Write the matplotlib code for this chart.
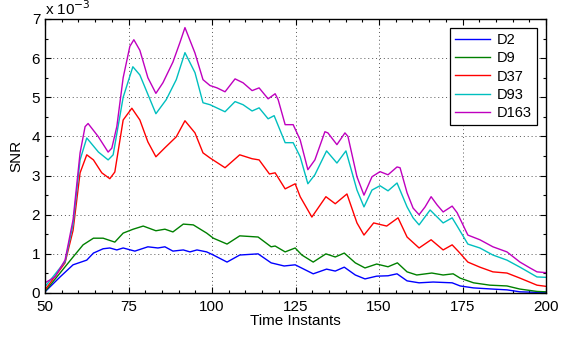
import numpy as np
import matplotlib
matplotlib.use("Agg")
import matplotlib.pyplot as plt
from matplotlib.ticker import MultipleLocator

plt.rcParams['font.family'] = ['Liberation Sans', 'DejaVu Sans']

# SNR values in units of 1e-3
x_d163 = [50, 53, 56, 58.4, 60.5, 62, 62.9, 65.9, 68.9, 70, 71.5, 73.4, 75.4, 76.6, 78.4,
          80.8, 83.2, 85.3, 88.3, 90.4, 91.9, 94.9, 97.3, 99.4, 101.5, 103.9, 106.9,
          109.3, 112, 114.1, 116.8, 118.9, 119.8, 121.9, 124.3, 126.4, 128.7, 130.8,
          133.8, 134.7, 137.4, 139.8, 140.7, 143.4, 145.5, 147.9, 150.3, 152.7, 155.4,
          156.3, 158.4, 160.2, 162, 163.8, 165.6, 167.4, 169.2, 171.9, 173.4, 176.6,
          180.2, 184.1, 188.3, 192.2, 195.2, 197.3, 200]
y_d163 = [0.26, 0.41, 0.84, 1.87, 3.58, 4.25, 4.33, 4.0, 3.6, 3.7, 4.25, 5.5, 6.3, 6.47, 6.2,
          5.5, 5.1, 5.37, 5.9, 6.4, 6.78, 6.13, 5.45, 5.3, 5.24, 5.14, 5.47,
          5.37, 5.17, 5.24, 4.96, 5.09, 4.94, 4.3, 4.3, 3.91, 3.15, 3.4,
          4.12, 4.09, 3.79, 4.09, 4.0, 2.97, 2.5, 2.97, 3.1, 3.02, 3.22,
          3.2, 2.56, 2.17, 2.0, 2.2, 2.46, 2.25, 2.07, 2.22, 2.05, 1.48,
          1.36, 1.18, 1.05, 0.79, 0.64, 0.54, 0.52]

x_d93 = [50, 56, 58.4, 60.5, 62.5, 66, 68.9, 70.4, 73.4, 76.3, 78.4, 83.2, 86.3, 89.3,
         91.9, 94.9, 97.3, 99.4, 103.9, 106.9, 109.3, 112, 114.1, 116.8, 118.6, 121.9,
         124.3, 126.4, 128.7, 130.8, 134.3, 137.4, 140.1, 143.4, 145.5, 147.9, 150.3,
         152.7, 155.4, 158.4, 160.2, 162, 165.3, 169.2, 171.9, 173.4, 176.6, 180.2,
         184.1, 188.3, 192.2, 197.3, 200]
y_d93 = [0.16, 0.8, 1.75, 3.4, 3.96, 3.6, 3.4, 3.53, 5.0, 5.78, 5.57, 4.58, 4.94, 5.45,
         6.14, 5.63, 4.86, 4.81, 4.63, 4.89, 4.81, 4.65, 4.73, 4.45, 4.53, 3.84,
         3.84, 3.48, 2.79, 3.02, 3.63, 3.32, 3.63, 2.63, 2.2, 2.63, 2.74,
         2.61, 2.81, 2.2, 1.92, 1.74, 2.12, 1.79, 1.92, 1.71, 1.25, 1.15,
         0.97, 0.84, 0.66, 0.41, 0.4]

x_d37 = [50, 56, 58.4, 60.5, 62.5, 64.5, 67, 69.4, 70.9, 73.4, 76, 78.4, 80.8, 83.2, 85.9,
         89.3, 91.9, 94.9, 97.3, 99.4, 103.9, 108.3, 112, 114.1, 117.2, 118.9, 121.9,
         124.9, 126.4, 129.9, 134.1, 136.9, 140.4, 143.4, 145.5, 148.4, 152.3, 155.7,
         158.4, 162, 165.6, 169.2, 171.9, 173.9, 176.6, 180.2, 184.1, 188.3, 192.2,
         197.3, 200]
y_d37 = [0.08, 0.77, 1.6, 3.07, 3.53, 3.4, 3.07, 2.92, 3.09, 4.42, 4.72, 4.42, 3.86, 3.48, 3.71,
         3.99, 4.4, 4.09, 3.58, 3.45, 3.2, 3.53, 3.43, 3.4, 3.04, 3.07, 2.66,
         2.79, 2.46, 1.94, 2.46, 2.28, 2.53, 1.79, 1.48, 1.79, 1.71, 1.92,
         1.43, 1.15, 1.36, 1.1, 1.23, 1.05, 0.79, 0.66, 0.54, 0.51, 0.38,
         0.2, 0.17]

x_d9 = [50, 54.5, 58.4, 61.4, 64.5, 67.4, 70.9, 73.4, 76.4, 79.4, 83.2, 85.9, 88.3, 91.4,
        94.4, 98.4, 100.4, 104.5, 108.3, 113.8, 117.7, 118.9, 121.9, 124.9, 126.9, 130.3,
        134.1, 136.9, 139.6, 142.9, 145.8, 149.3, 152.7, 155.5, 158.4, 161.3, 165.8,
        169.2, 172.2, 174.3, 178.3, 183.2, 188.3, 192.2, 197.3, 200]
y_d9 = [0.04, 0.51, 0.92, 1.23, 1.4, 1.4, 1.3, 1.53, 1.63, 1.71, 1.59, 1.63, 1.56, 1.76,
        1.74, 1.53, 1.4, 1.25, 1.46, 1.43, 1.18, 1.2, 1.05, 1.15, 0.97, 0.79,
        1.0, 0.92, 1.02, 0.77, 0.64, 0.74, 0.67, 0.77, 0.54, 0.46, 0.51,
        0.46, 0.49, 0.38, 0.26, 0.2, 0.18, 0.1, 0.04, 0.03]

x_d2 = [50, 54.5, 58.4, 62.5, 64.5, 67.4, 69.4, 71.5, 73.4, 76.9, 80.8, 83.8, 85.9, 88.3,
        91.4, 93.4, 95.5, 98.4, 100.4, 104.5, 108.3, 113.8, 117.7, 121.6, 124.9, 130.3,
        134.3, 136.9, 139.6, 142.9, 145.8, 149.3, 152.7, 155.4, 158.4, 162, 166.2,
        171.9, 174.3, 178.3, 184.1, 188.3, 192.2, 200]
y_d2 = [0.03, 0.41, 0.72, 0.84, 1.02, 1.13, 1.15, 1.1, 1.15, 1.07, 1.18, 1.15, 1.18, 1.07,
        1.1, 1.05, 1.1, 1.05, 0.97, 0.79, 0.97, 1.0, 0.77, 0.69, 0.72, 0.49,
        0.61, 0.56, 0.66, 0.46, 0.36, 0.43, 0.44, 0.49, 0.31, 0.26, 0.28,
        0.26, 0.18, 0.13, 0.1, 0.08, 0.03, 0.01]

labels = ['D2', 'D9', 'D37', 'D93', 'D163']
colors = ['#0000ff', '#008000', '#ff0000', '#00bfbf', '#bf00bf']
series = [(x_d2, y_d2), (x_d9, y_d9), (x_d37, y_d37), (x_d93, y_d93), (x_d163, y_d163)]

fig = plt.figure(figsize=(5.64, 3.39), dpi=100)
ax = fig.add_axes([0.0798, 0.1357, 0.8883, 0.8083])

for (xs, ys), lab, col in zip(series, labels, colors):
    ax.plot(xs, ys, color=col, lw=1.0, label=lab)

ax.set_xlim(50, 200)
ax.set_ylim(0, 7)
ax.xaxis.set_major_locator(MultipleLocator(25))
ax.xaxis.set_minor_locator(MultipleLocator(5))
ax.yaxis.set_major_locator(MultipleLocator(1))
ax.yaxis.set_minor_locator(MultipleLocator(0.5))
ax.tick_params(which='both', direction='in', top=True, right=True, labelsize=11, width=0.8)
ax.tick_params(which='major', length=4)
ax.tick_params(which='minor', length=2.5)
ax.tick_params(axis='x', pad=5)
ax.grid(True, which='major', linestyle=(0, (1, 3)), color='#555555', lw=0.7)
for s in ax.spines.values():
    s.set_linewidth(1.0)

ax.set_xlabel('Time Instants', fontsize=11, labelpad=0)
ax.set_ylabel('SNR', fontsize=11, labelpad=6)
ax.text(0.0, 1.005, r'x 10$^{-3}$', transform=ax.transAxes, fontsize=11, ha='left', va='bottom')

leg = ax.legend(loc='upper right', fontsize=10.5, fancybox=False, framealpha=1,
                edgecolor='black', handlelength=2.4, borderaxespad=0.6,
                labelspacing=0.3, handletextpad=0.5, borderpad=0.35)
leg.get_frame().set_linewidth(0.9)

fig.savefig('out.png', dpi=100)
